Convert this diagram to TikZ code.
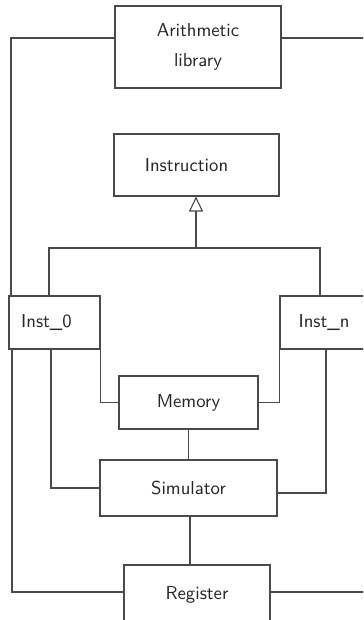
\documentclass[tikz,border=0pt]{standalone}
\usepackage{tikz}
\usetikzlibrary{arrows.meta,positioning,calc}
\definecolor{ink}{HTML}{4A4A4A}
\newlength{\px}
\setlength{\px}{0.535pt}
\tikzset{unit/.style={draw=ink,line width=0.6pt,fill=white,font=\sffamily,text=black!85,align=center,inner sep=0pt}, link/.style={draw=ink,line width=0.6pt}, inherit/.style={link,-{Triangle[open,length=8pt,width=7.5pt,fill=white]}}}

\begin{document}
\begin{tikzpicture}[x=0.535pt,y=-0.535pt]
\clip (0,0) rectangle (363,620);
\node[unit,minimum width=166\px,minimum height=82\px] (arith) at (198,47) {Arithmetic\\[4pt]library};
\node[unit,minimum width=165\px,minimum height=62\px] (instr) at (196.5,165) {Instruction\hspace*{20\px}};
\node[unit,minimum width=91\px,minimum height=53\px] (inst0) at (54.5,322.5) {Inst\_0\hspace*{16\px}};
\node[unit,minimum width=88\px,minimum height=53\px] (instn) at (324,322.5) {Inst\_n};
\node[unit,minimum width=139\px,minimum height=53\px] (memory) at (188.5,402.5) {Memory};
\node[unit,minimum width=177\px,minimum height=56\px] (sim) at (188.5,488) {Simulator};
\node[unit,minimum width=146\px,minimum height=60\px] (reg) at (197,595) {Register};
\coordinate (tree) at (196,248);
% library calls
\draw[link] (arith.west |- 0,38) -| (inst0.north -| 11,0);
\draw[link] (arith.east |- 0,38) -| (instn.north -| 366,0);
% inheritance
\draw[inherit] (tree) -- (instr.south -| tree);
\draw[link] (inst0.north -| 49,0) |- (tree) -| (instn.north -| 320,0);
% instructions to memory, simulator, register
\draw[link] (inst0.south -| 12,0) |- (reg.west |- 0,592);
\draw[link] (inst0.south -| 51,0) |- (sim.west);
\draw[link] (inst0.south east) |- (memory.west);
\draw[link] (instn.south west) |- (memory.east);
\draw[link] (instn.south -| 326,0) |- (sim.east |- 0,493);
\draw[link] (instn.south -| 366,0) |- (reg.east |- 0,592);
\draw[link] (memory) -- (sim);
\draw[link] (sim.south -| 190,0) -- (reg.north -| 190,0);
\end{tikzpicture}
\end{document}
